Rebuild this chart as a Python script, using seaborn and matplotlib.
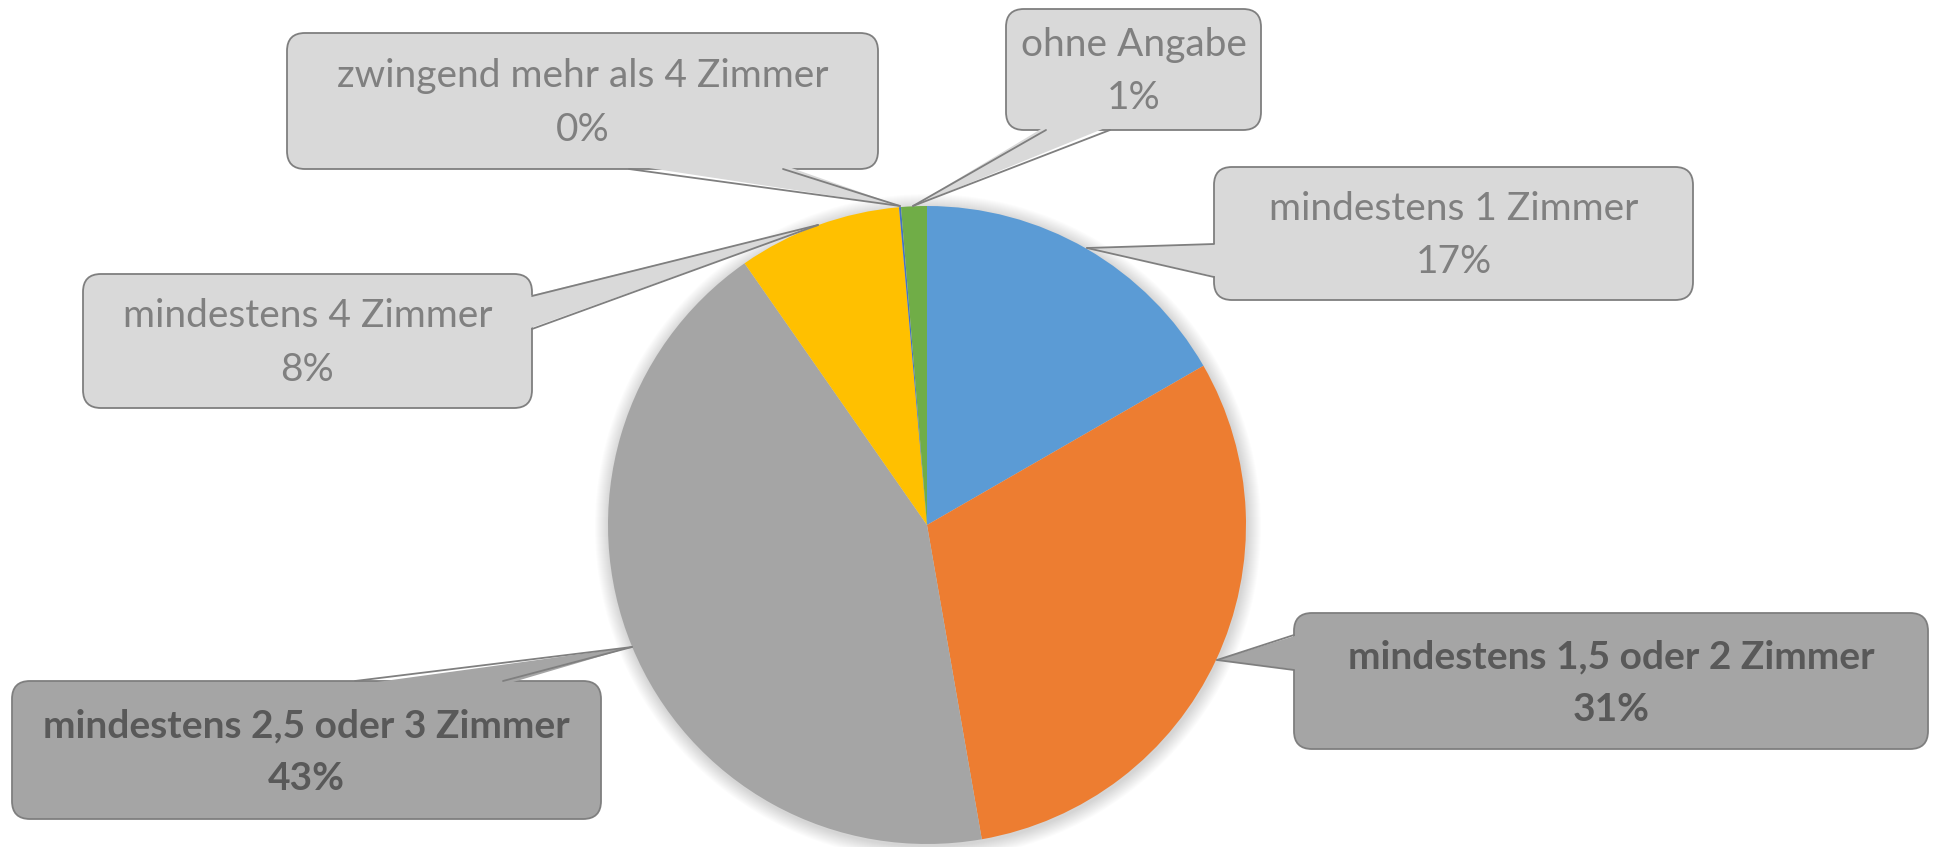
import matplotlib
matplotlib.use("Agg")
import matplotlib.pyplot as plt
from matplotlib.patches import FancyBboxPatch, Polygon, Circle
import seaborn as sns

# Anteile (Prozent), im Uhrzeigersinn ab 12 Uhr
categories = [
    "mindestens 1 Zimmer",
    "mindestens 1,5 oder 2 Zimmer",
    "mindestens 2,5 oder 3 Zimmer",
    "mindestens 4 Zimmer",
    "zwingend mehr als 4 Zimmer",
    "ohne Angabe",
]
shares = [16.7, 30.6, 43.1, 8.3, 0.1, 1.3]
colors = ["#5B9BD5", "#ED7D31", "#A5A5A5", "#FFC000", "#4472C4", "#70AD47"]
highlight = [False, True, True, False, False, False]

W, H = 1934, 847

sns.set_theme(style="white")
plt.rcParams["font.family"] = ["Lato", "DejaVu Sans"]

fig = plt.figure(figsize=(W / 100, H / 100), dpi=100)
ax = fig.add_axes([0, 0, 1, 1])

cx, cy, r = 927, H - 525, 319

# weicher Schatten
for k in range(14):
    ax.add_patch(Circle((cx + 1, cy - 2), r + 14 - k, color="black", alpha=0.012, lw=0, zorder=1))

ax.pie(shares, colors=sns.color_palette(colors), startangle=90, counterclock=False,
       center=(cx, cy), radius=r, wedgeprops=dict(linewidth=0, zorder=2))
ax.set_xlim(0, W)
ax.set_ylim(0, H)
ax.set_aspect("auto")
ax.axis("off")

total = sum(shares)
pct = [f"{round(v / total * 100):.0f}%" for v in shares]

# Callout-Boxen: (x0, y0, x1, y1), Basis des Zeigers, Spitze  -- Pixel, y nach unten
boxes = {
    "mindestens 1 Zimmer": ((1214, 167, 1693, 300), ((1214, 244), (1214, 277)), (1087, 248)),
    "mindestens 1,5 oder 2 Zimmer": ((1294, 613, 1928, 749), ((1294, 635), (1294, 670)), (1217, 660)),
    "mindestens 2,5 oder 3 Zimmer": ((12, 681, 601, 819), ((355, 681), (503, 681)), (632, 647)),
    "mindestens 4 Zimmer": ((83, 274, 532, 408), ((532, 296), (532, 329)), (818, 225)),
    "zwingend mehr als 4 Zimmer": ((287, 33, 878, 169), ((629, 169), (783, 169)), (900, 206)),
    "ohne Angabe": ((1006, 9, 1261, 130), ((1046, 130), (1110, 130)), (913, 206)),
}

edge = "#7F7F7F"
for cat, p, hl in zip(categories, pct, highlight):
    (x0, y0, x1, y1), (b1, b2), tip = boxes[cat]
    fill = "#A5A5A5" if hl else "#D9D9D9"
    tcol = "#595959" if hl else "#808080"
    ax.add_patch(FancyBboxPatch((x0, H - y1), x1 - x0, y1 - y0,
                                boxstyle="round,pad=0,rounding_size=18",
                                fc=fill, ec=edge, lw=1.3, zorder=5))
    # Zeiger: Basis leicht in die Box schieben, damit die Kante verdeckt wird
    mx, my = (x0 + x1) / 2, (y0 + y1) / 2
    def inset(pt):
        dx = 4 if abs(pt[0] - x0) < 1 else (-4 if abs(pt[0] - x1) < 1 else 0)
        dy = 4 if abs(pt[1] - y0) < 1 else (-4 if abs(pt[1] - y1) < 1 else 0)
        return (pt[0] + dx, H - (pt[1] + dy))
    ax.add_patch(Polygon([inset(b1), inset(b2), (tip[0], H - tip[1])],
                         closed=True, fc=fill, ec="none", zorder=6))
    for b in (b1, b2):
        ax.plot([b[0], tip[0]], [H - b[1], H - tip[1]], color=edge, lw=1.3,
                solid_capstyle="round", zorder=7)
    ax.text(mx, H - my - 2, f"{cat}\n{p}", ha="center", va="center", fontsize=28,
            color=tcol, fontweight="bold" if hl else "normal",
            linespacing=1.6, zorder=8)

fig.savefig("out.png", dpi=100)
